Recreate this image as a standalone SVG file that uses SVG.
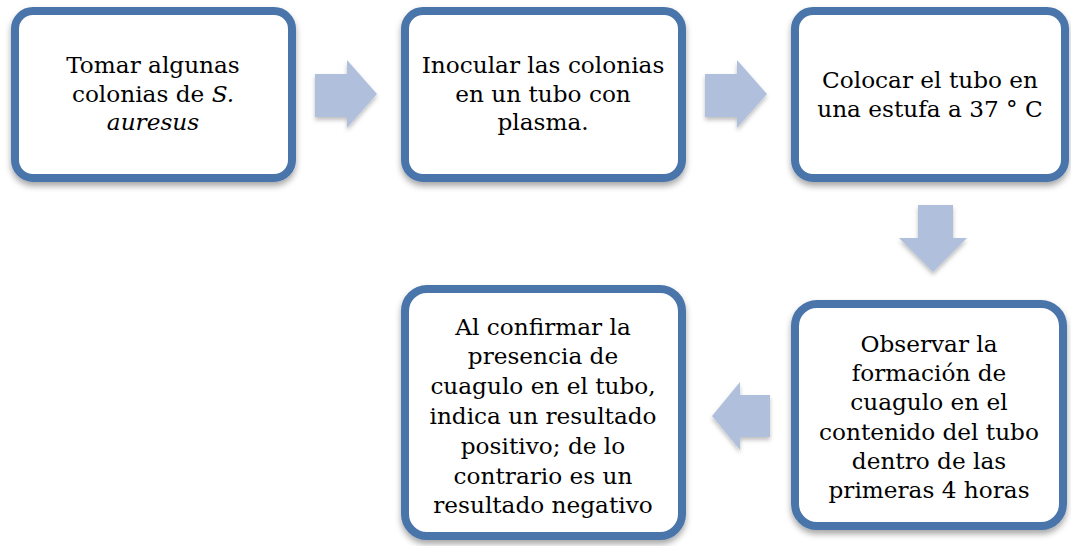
<svg xmlns="http://www.w3.org/2000/svg" width="1071" height="546" viewBox="0 0 1071 546">
<defs>
<filter id="sh" x="-10%" y="-10%" width="120%" height="130%">
<feDropShadow dx="0" dy="4" stdDeviation="3" flood-color="#000" flood-opacity="0.35"/>
</filter>
<filter id="ash" x="-20%" y="-20%" width="140%" height="140%">
<feDropShadow dx="0" dy="3" stdDeviation="2" flood-color="#000" flood-opacity="0.25"/>
</filter>
</defs>
<style>
.box{fill:#fff;stroke:#4a75aa;stroke-width:8;filter:url(#sh)}
.t{font-family:"DejaVu Serif","Liberation Serif",serif;font-size:23.2px;fill:#000;text-anchor:middle}
.arr{fill:#b0c0dc;filter:url(#ash)}
</style>
<rect width="1071" height="546" fill="#fff"/>
<g id="connectors">
<polygon class="arr" points="315,74 347,74 347,60 377,94 347,128 347,117 315,117"/>
<polygon class="arr" points="705,74 737,74 737,60 767,94 737,128 737,117 705,117"/>
<polygon class="arr" points="918,205 953,205 953,238 967,238 933,272 899,238 918,238"/>
<polygon class="arr" points="770,395 740,395 740,382 712,416 740,450 740,437 770,437"/>
</g>
<g id="node1">
<rect class="box" x="15" y="11" width="277" height="167" rx="18"/>
<text class="t" x="153" y="73">Tomar algunas</text>
<text class="t" x="153" y="102">colonias de <tspan font-style="italic">S.</tspan></text>
<text class="t" x="153" y="130" font-style="italic">auresus</text>
</g>
<g id="node2">
<rect class="box" x="405" y="11" width="277" height="167" rx="18"/>
<text class="t" x="543" y="73">Inocular las colonias</text>
<text class="t" x="543" y="102">en un tubo con</text>
<text class="t" x="543" y="130">plasma.</text>
</g>
<g id="node3">
<rect class="box" x="795" y="11" width="270" height="167" rx="18"/>
<text class="t" x="930" y="88">Colocar el tubo en</text>
<text class="t" x="930" y="117">una estufa a 37 ° C</text>
</g>
<g id="node4">
<rect class="box" x="405" y="289" width="277" height="247" rx="22"/>
<text class="t" x="543" y="335">Al confirmar la</text>
<text class="t" x="543" y="364">presencia de</text>
<text class="t" x="543" y="394">cuagulo en el tubo,</text>
<text class="t" x="543" y="424">indica un resultado</text>
<text class="t" x="543" y="454">positivo; de lo</text>
<text class="t" x="543" y="484">contrario es un</text>
<text class="t" x="543" y="513">resultado negativo</text>
</g>
<g id="node5">
<rect class="box" x="795" y="304" width="268" height="222" rx="22"/>
<text class="t" x="929" y="352">Observar la</text>
<text class="t" x="929" y="381">formación de</text>
<text class="t" x="929" y="410">cuagulo en el</text>
<text class="t" x="929" y="440">contenido del tubo</text>
<text class="t" x="929" y="469">dentro de las</text>
<text class="t" x="929" y="498">primeras 4 horas</text>
</g>
</svg>
